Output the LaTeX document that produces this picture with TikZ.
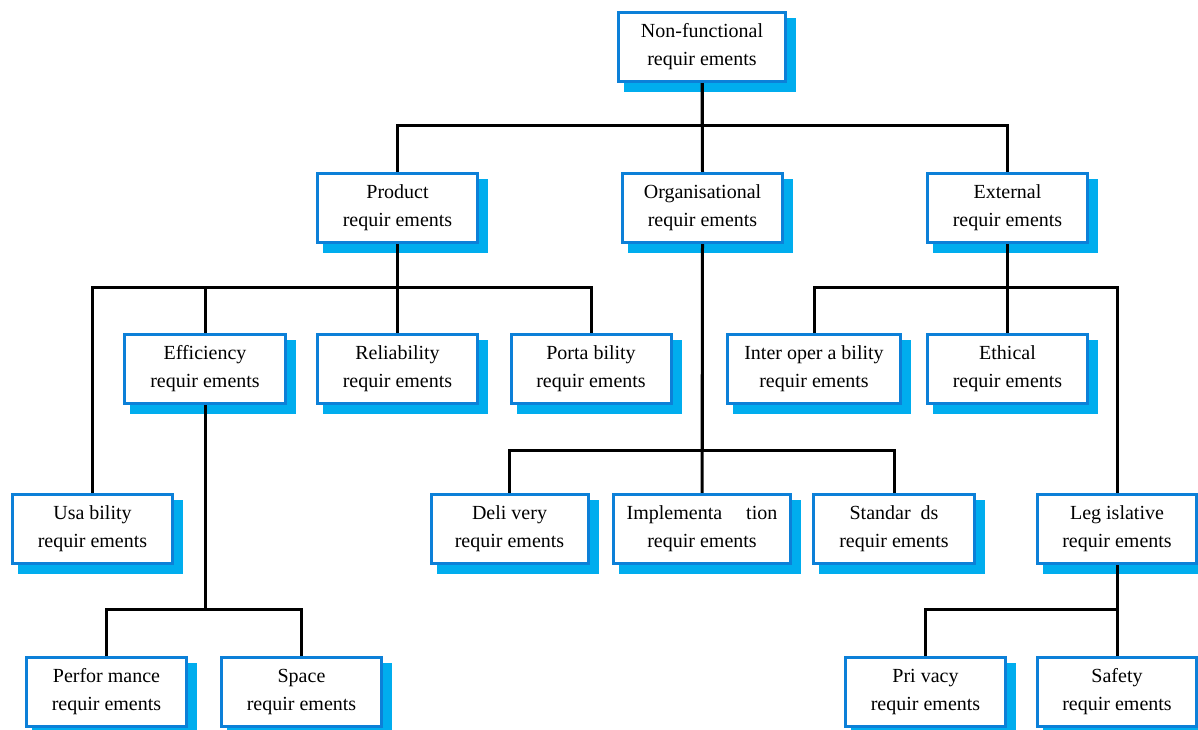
\documentclass[tikz,border=0pt]{standalone}
\usepackage{fontspec}
\setmainfont{Liberation Serif}
\usetikzlibrary{calc}
\definecolor{boxblue}{RGB}{12,128,216}
\definecolor{shadowc}{RGB}{0,173,238}
\pgfdeclarelayer{bg}
\pgfdeclarelayer{shad}
\pgfdeclarelayer{conn}
\pgfsetlayers{bg,shad,conn,main}
\tikzset{
  box/.style={draw=boxblue, line width=3pt, fill=white, minimum height=69pt,
    inner sep=0pt, outer sep=0pt, align=center,
    font=\fontsize{20}{28}\selectfont},
  conn/.style={draw=black, line width=3pt, line join=miter},
}
\newcommand\bx[5]{%
  \node[box, minimum width=#4pt] (#1) at (#2,#3) {#5};
  \begin{pgfonlayer}{shad}
    \fill[shadowc] ($(#1.south west)+(5.5,10.5)$) rectangle ($(#1.north east)+(10.5,5.5)$);
  \end{pgfonlayer}}
\begin{document}
\begin{tikzpicture}[x=1pt,y=-1pt]
\useasboundingbox (0,0) rectangle (1198,729);
\begin{pgfonlayer}{bg}
\fill[white] (0,0) rectangle (1198,729);
\end{pgfonlayer}
% row 1
\bx{nf}{702}{47}{167}{Non-functional\\requir ements}
% row 2
\bx{prod}{397.5}{208}{160}{Product\\requir ements}
\bx{org}{702.5}{208}{160}{Organisational\\requir ements}
\bx{ext}{1007.5}{208}{160}{External\\requir ements}
% row 3
\bx{eff}{205}{369}{161}{Efficiency\\requir ements}
\bx{rel}{397.5}{369}{160}{Reliability\\requir ements}
\bx{port}{591}{369}{160}{Porta bility\\requir ements}
\bx{inter}{814}{369}{173}{Inter oper a bility\\requir ements}
\bx{eth}{1007.5}{369}{160}{Ethical\\requir ements}
% row 4
\bx{usa}{92.5}{529}{160}{Usa bility\\requir ements}
\bx{del}{509.5}{529}{157}{Deli very\\requir ements}
\bx{impl}{702}{529}{177}{Implementa\hspace{1.2em}tion\\requir ements}
\bx{std}{894}{529}{161}{Standar\hspace{0.5em}ds\\requir ements}
\bx{leg}{1117}{529}{159}{Leg islative\\requir ements}
% row 5
\bx{perf}{106.5}{692}{160}{Perfor mance\\requir ements}
\bx{space}{301.5}{692}{160}{Space\\requir ements}
\bx{priv}{925.5}{692}{160}{Pri vacy\\requir ements}
\bx{safe}{1117}{692}{159}{Safety\\requir ements}
% buses
\coordinate (b1) at (0,125);
\coordinate (b2) at (0,287);
\coordinate (b3) at (0,450);
\coordinate (b4) at (0,609);
\begin{pgfonlayer}{conn}
\draw[conn] (nf.south) |- (b1 -| prod.north) -- (prod.north);
\draw[conn] (nf.south) -- (org.north);
\draw[conn] (nf.south) |- (b1 -| ext.north) -- (ext.north);
\draw[conn] (prod.south) |- (b2 -| usa.north) -- (usa.north);
\draw[conn] (prod.south) |- (b2 -| eff.north) -- (eff.north);
\draw[conn] (prod.south) -- (rel.north);
\draw[conn] (prod.south) |- (b2 -| port.north) -- (port.north);
\draw[conn] (ext.south) |- (b2 -| inter.north) -- (inter.north);
\draw[conn] (ext.south) -- (eth.north);
\draw[conn] (ext.south) |- (b2 -| leg.north) -- (leg.north);
\draw[conn] (org.south) |- (b3 -| del.north) -- (del.north);
\draw[conn] (org.south) -- (impl.north);
\draw[conn] (org.south) |- (b3 -| std.north) -- (std.north);
\draw[conn] (eff.south) |- (b4 -| perf.north) -- (perf.north);
\draw[conn] (eff.south) |- (b4 -| space.north) -- (space.north);
\draw[conn] (leg.south) |- (b4 -| priv.north) -- (priv.north);
\draw[conn] (leg.south) -- (safe.north);
\end{pgfonlayer}
\end{tikzpicture}
\end{document}
